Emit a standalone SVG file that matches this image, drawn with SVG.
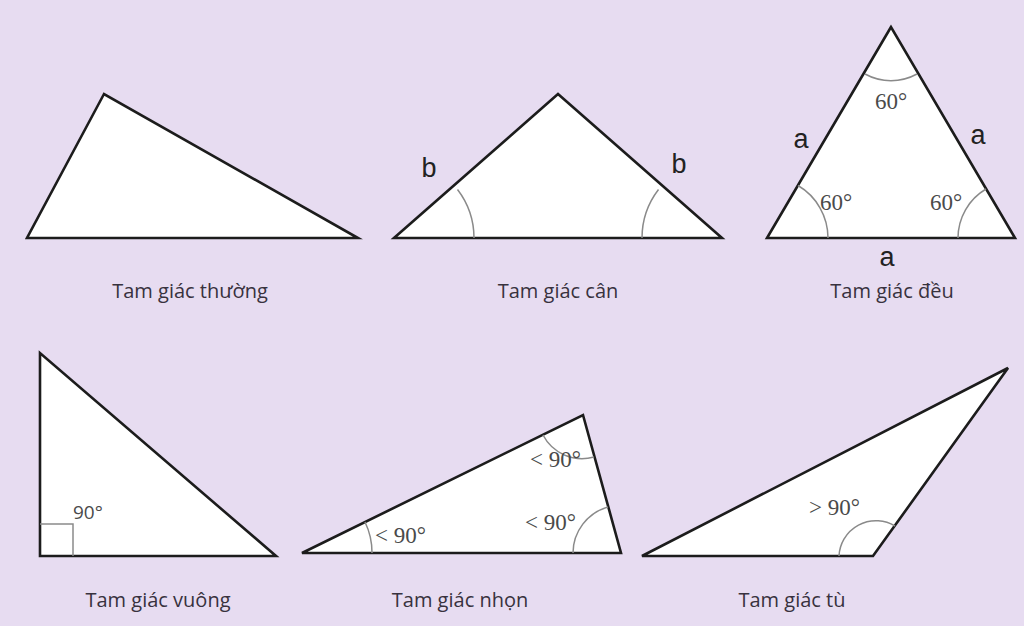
<svg xmlns="http://www.w3.org/2000/svg" width="1024" height="626" viewBox="0 0 1024 626">
<style>
.tri{fill:#ffffff;stroke:#1c1c1c;stroke-width:2.6;stroke-linejoin:miter}
.arc{fill:none;stroke:#8a8a8a;stroke-width:1.5}
.cap{font-family:"Open Sans","Noto Sans",sans-serif;font-size:20px;font-weight:500;fill:#38323e;text-anchor:middle}
.side{font-family:"Liberation Sans",Arial,sans-serif;font-size:27px;fill:#222;text-anchor:middle}
.ang{font-family:"Liberation Serif","Times New Roman",serif;font-size:23px;fill:#4a4a4a}
</style>
<rect width="1024" height="626" fill="#e7dcf1"/>
<g id="thuong">
<polygon class="tri" points="104,94 27,238 358,238"/>
<text class="cap" x="190" y="298">Tam giác thường</text>
</g>
<g id="can">
<polygon class="tri" points="558,94 394,238 722,238"/>
<path class="arc" d="M474,238 A80,80 0 0 0 457.5,189.5"/>
<path class="arc" d="M642,238 A80,80 0 0 1 658.5,189.5"/>
<text class="side" x="429" y="177">b</text>
<text class="side" x="679" y="173">b</text>
<text class="cap" x="558" y="298">Tam giác cân</text>
</g>
<g id="deu">
<polygon class="tri" points="891,27 767,238 1015,238"/>
<path class="arc" d="M865,74 A54,54 0 0 0 917,74"/>
<path class="arc" d="M828,238 A61,61 0 0 0 798,185.5"/>
<path class="arc" d="M958,238 A57,57 0 0 1 986,189"/>
<text class="ang" x="891" y="109" text-anchor="middle">60°</text>
<text class="ang" x="820" y="210">60°</text>
<text class="ang" x="930" y="210">60°</text>
<text class="side" x="801" y="148">a</text>
<text class="side" x="978" y="144">a</text>
<text class="side" x="887" y="266">a</text>
<text class="cap" x="892" y="298">Tam giác đều</text>
</g>
<g id="vuong">
<polygon class="tri" points="40,353 40,556 276,556"/>
<path class="arc" d="M40,524 H73 V556"/>
<text class="ang" x="73" y="519" style="font-family:'Open Sans','Noto Sans',sans-serif;font-size:19px">90°</text>
<text class="cap" x="158" y="607">Tam giác vuông</text>
</g>
<g id="nhon">
<polygon class="tri" points="302,553 583,415 621,553"/>
<path class="arc" d="M372,553 A70,70 0 0 0 365,522"/>
<path class="arc" d="M543,435 A44,44 0 0 0 594,457"/>
<path class="arc" d="M573,553 A48,48 0 0 1 608,507"/>
<text class="ang" x="530" y="467">&lt; 90°</text>
<text class="ang" x="525" y="530">&lt; 90°</text>
<text class="ang" x="375" y="543">&lt; 90°</text>
<text class="cap" x="460" y="607">Tam giác nhọn</text>
</g>
<g id="tu">
<polygon class="tri" points="642,556 873,556 1008,368"/>
<path class="arc" d="M839,556 A37,37 0 0 1 895,526"/>
<text class="ang" x="809" y="515">&gt; 90°</text>
<text class="cap" x="792" y="607">Tam giác tù</text>
</g>
<g id="connectors"></g>
</svg>
